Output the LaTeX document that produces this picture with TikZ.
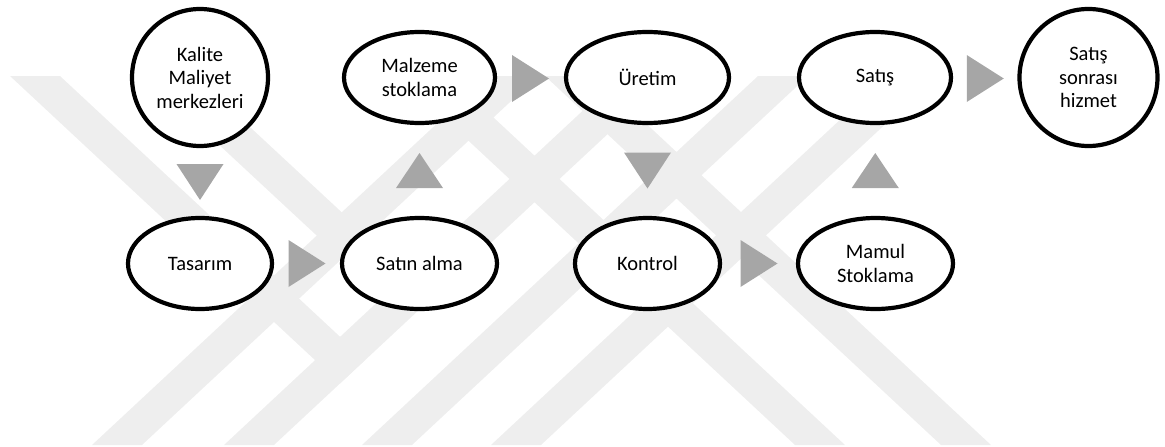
\documentclass[tikz,border=0pt]{standalone}
\usepackage{fontspec}
\setmainfont{Carlito}
\usetikzlibrary{shapes.geometric,calc}
\definecolor{wm}{RGB}{238,238,238}
\definecolor{arrgray}{RGB}{166,166,166}
\begin{document}
\begin{tikzpicture}[x=1pt,y=-1pt,
  proc/.style={ellipse,draw=black,line width=4.2pt,fill=white,inner sep=0pt,align=center,
    font=\fontsize{20.5}{23.5}\selectfont},
  arr/.style={fill=arrgray},
  band/.style={fill=wm},
  rtri/.pic={\fill[arr] (-18.5,-23.5) -- (-18.5,23.5) -- (18.5,0) -- cycle;},
  dtri/.pic={\fill[arr] (-23.5,-18) -- (23.5,-18) -- (0,18) -- cycle;},
  utri/.pic={\fill[arr] (-23.5,17.5) -- (23.5,17.5) -- (0,-17.5) -- cycle;}]
\useasboundingbox (0,0) rectangle (1165,447);
% watermark bands
\fill[band] (92,445) -- (142,445) -- (538,76) -- (488,76) -- cycle;
\fill[band] (224,445) -- (274,445) -- (670,76) -- (620,76) -- cycle;
\fill[band] (362,445) -- (412,445) -- (808,76) -- (758,76) -- cycle;
\fill[band] (491,445) -- (541,445) -- (937,76) -- (887,76) -- cycle;
\fill[band] (795,445) -- (845,445) -- (449,76) -- (399,76) -- cycle;
\fill[band] (941,445) -- (991,445) -- (595,76) -- (545,76) -- cycle;
\fill[band] (145,76) -- (195,76) -- (366.4,235.2) -- (341.5,258.6) -- cycle;
\fill[band] (10,76) -- (60,76) -- (365,360) -- (340,383.4) -- cycle;
% nodes
\node[proc,minimum width=136pt,minimum height=137pt] (kalite) at (200,77.5) {Kalite\\Maliyet\\merkezleri};
\node[proc,minimum width=151pt,minimum height=91pt] (malzeme) at (419.5,77.5) {Malzeme\\stoklama};
\node[proc,minimum width=163pt,minimum height=91pt] (uretim) at (647.5,77.5) {Üretim};
\node[proc,minimum width=152pt,minimum height=91pt] (satis) at (875,77.5) {Satış};
\node[proc,minimum width=138pt,minimum height=137pt] (sonrasi) at (1088.5,77.5) {Satış\\sonrası\\hizmet};
\node[proc,minimum width=144pt,minimum height=91pt] (tasarim) at (200,263.5) {Tasarım};
\node[proc,minimum width=155pt,minimum height=91pt] (satinalma) at (419.5,263.5) {Satın alma};
\node[proc,minimum width=145pt,minimum height=91pt] (kontrol) at (647.5,263.5) {Kontrol};
\node[proc,minimum width=155pt,minimum height=91pt] (mamul) at (875.5,263.5) {Mamul\\Stoklama};
% connectors (gray triangles)
\coordinate (c1) at ($(kalite.south)!0.5!(tasarim.north)$);
\coordinate (c2) at ($(tasarim.east)!0.5!(satinalma.west)$);
\coordinate (c3) at ($(satinalma.north)!0.5!(malzeme.south)$);
\coordinate (c4) at ($(malzeme.east)!0.5!(uretim.west)+(0,1)$);
\coordinate (c5) at ($(uretim.south)!0.5!(kontrol.north)$);
\coordinate (c6) at ($(kontrol.east)!0.5!(mamul.west)$);
\coordinate (c7) at ($(mamul.north)!0.5!(satis.south)$);
\coordinate (c8) at ($(satis.east)!0.5!(sonrasi.west)+(0,1)$);
\pic at (c1) {dtri};
\pic at (c2) {rtri};
\pic at (c3) {utri};
\pic at (c4) {rtri};
\pic at (c5) {dtri};
\pic at (c6) {rtri};
\pic at (c7) {utri};
\pic at (c8) {rtri};
\end{tikzpicture}
\end{document}
